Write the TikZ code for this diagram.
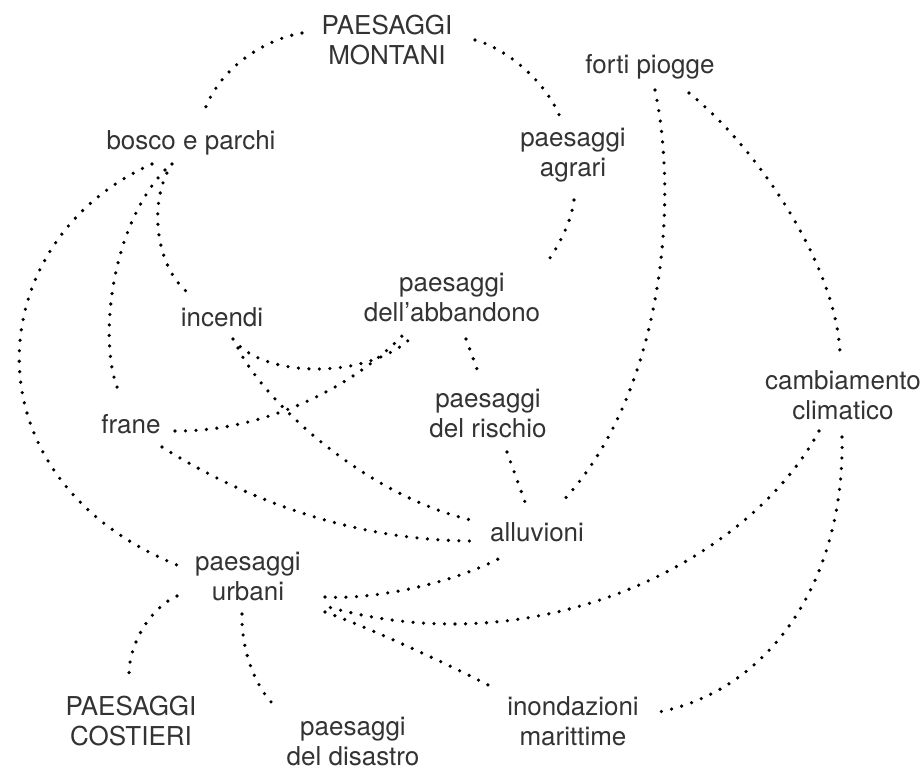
\documentclass[tikz,border=0pt]{standalone}
\usepackage{fontspec}
\setmainfont{TeX Gyre Heros}

\tikzset{
  topic/.style={anchor=base, align=center, inner sep=0pt, text=black!80,
    font=\fontsize{26}{30}\selectfont},
  link/.style={line width=3.6pt, line cap=round, dash pattern=on 0pt off 10.5pt}
}

\begin{document}
\begin{tikzpicture}[x=1pt, y=-1pt]
    \useasboundingbox (0,0) rectangle (924,768);

    % Landscapes (base = last line)
    \node[topic] (montani) at (387,65) {PAESAGGI\\MONTANI};
    \node[topic] (bosco) at (191,149) {bosco e parchi};
    \node[topic] (agrari) at (573,176) {paesaggi\\agrari};
    \node[topic] (abbandono) at (452,321) {paesaggi\\dell’abbandono};
    \node[topic] (rischio) at (488,437) {paesaggi\\del rischio};
    \node[topic] (urbani) at (248,600) {paesaggi\\urbani};
    \node[topic] (costieri) at (131,745) {PAESAGGI\\COSTIERI};
    \node[topic] (disastro) at (353,765) {paesaggi\\del disastro};

    % Hazards
    \node[topic] (forti) at (650,74) {forti piogge};
    \node[topic] (incendi) at (222,326) {incendi};
    \node[topic] (frane) at (131,433) {frane};
    \node[topic] (clima) at (843,419) {cambiamento\\climatico};
    \node[topic] (alluvioni) at (537,541) {alluvioni};
    \node[topic] (inondazioni) at (573,745) {inondazioni\\marittime};

    % Upper links
    \draw[link] ([shift={(-85,-32)}]montani.base) .. controls (262,40) and (218,70) .. ([shift={(13,-37)}]bosco.base);
    \draw[link] ([shift={(88,-25)}]montani.base) .. controls (505,48) and (545,80) .. ([shift={(-13,-59)}]agrari.base);
    \draw[link] ([shift={(1,24)}]agrari.base) .. controls (572,218) and (562,240) .. ([shift={(98,-63)}]abbandono.base);
    \draw[link] ([shift={(5,16)}]forti.base) .. controls (680,210) and (660,400) .. ([shift={(23,-37)}]alluvioni.base);
    \draw[link] ([shift={(39,19)}]forti.base) .. controls (760,150) and (838,270) .. ([shift={(-3,-64)}]clima.base);

    % From the woods
    \draw[link] ([shift={(-39,15)}]bosco.base) .. controls (-20,240) and (-40,480) .. ([shift={(-66,-33)}]urbani.base);
    \draw[link] ([shift={(-26,21)}]bosco.base) .. controls (108,230) and (98,350) .. ([shift={(-11,-39)}]frane.base);
    \draw[link] ([shift={(-19,15)}]bosco.base) .. controls (148,200) and (155,265) .. ([shift={(-35,-34)}]incendi.base);

    % Fires and landslides
    \draw[link] ([shift={(11,13)}]incendi.base) .. controls (262,378) and (365,380) .. ([shift={(-42,18)}]abbandono.base);
    \draw[link] ([shift={(16,22)}]incendi.base) .. controls (260,395) and (360,495) .. ([shift={(-62,-20)}]alluvioni.base);
    \draw[link] ([shift={(44,-2)}]frane.base) .. controls (260,432) and (350,390) .. ([shift={(-49,14)}]abbandono.base);
    \draw[link] ([shift={(31,14)}]frane.base) .. controls (230,490) and (340,541) .. ([shift={(-62,0)}]alluvioni.base);

    % Risk chain
    \draw[link] ([shift={(14,18)}]abbandono.base) -- ([shift={(-11,-68)}]rischio.base);
    \draw[link] ([shift={(19,15)}]rischio.base) -- ([shift={(-12,-39)}]alluvioni.base);

    % Climate change
    \draw[link] ([shift={(-24,12)}]clima.base) .. controls (750,560) and (540,668) .. ([shift={(77,6)}]urbani.base);
    \draw[link] ([shift={(-1,18)}]clima.base) .. controls (845,580) and (770,690) .. ([shift={(86,-33)}]inondazioni.base);

    % Urban landscapes
    \draw[link] ([shift={(77,-3)}]urbani.base) .. controls (370,600) and (450,585) .. ([shift={(-35,16)}]alluvioni.base);
    \draw[link] ([shift={(77,12)}]urbani.base) .. controls (370,628) and (450,665) .. ([shift={(-81,-58)}]inondazioni.base);
    \draw[link] ([shift={(-71,-4)}]urbani.base) .. controls (150,608) and (128,645) .. ([shift={(-2,-68)}]costieri.base);
    \draw[link] ([shift={(-6,14)}]urbani.base) .. controls (241,640) and (250,680) .. ([shift={(-80,-61)}]disastro.base);

\end{tikzpicture}
\end{document}
